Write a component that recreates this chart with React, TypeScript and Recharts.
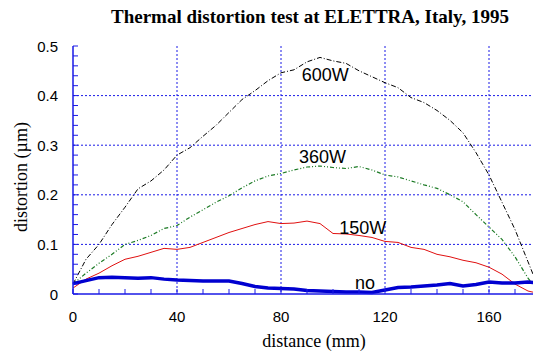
import React from 'react';
import {
  LineChart,
  Line,
  XAxis,
  YAxis,
  CartesianGrid,
  ReferenceDot,
} from 'recharts';

// distance along the mirror (mm)
const distance = [
  0, 5, 10, 15, 20, 25, 30, 35, 40, 45, 50, 55, 60, 65, 70, 75, 80, 85, 90,
  95, 100, 105, 110, 115, 120, 125, 130, 135, 140, 145, 150, 155, 160, 165,
  170, 175, 180,
];

// distortion (µm) per heat load
const w600 = [
  0.02, 0.07, 0.1, 0.14, 0.175, 0.212, 0.228, 0.25, 0.28, 0.295, 0.318, 0.34,
  0.366, 0.392, 0.41, 0.43, 0.446, 0.452, 0.468, 0.477, 0.47, 0.465, 0.45,
  0.438, 0.426, 0.416, 0.396, 0.386, 0.37, 0.35, 0.325, 0.285, 0.24, 0.185,
  0.13, 0.065, 0.0,
];
const w360 = [
  0.02, 0.042, 0.062, 0.08, 0.1, 0.108, 0.118, 0.132, 0.138, 0.155, 0.17,
  0.185, 0.198, 0.214, 0.228, 0.238, 0.243, 0.25, 0.256, 0.258, 0.255, 0.253,
  0.257, 0.25, 0.24, 0.236, 0.228, 0.22, 0.213, 0.2, 0.186, 0.16, 0.135, 0.11,
  0.075, 0.032, 0.0,
];
const w150 = [
  0.012, 0.03, 0.042, 0.057, 0.07, 0.076, 0.084, 0.092, 0.09, 0.094, 0.104,
  0.114, 0.124, 0.132, 0.14, 0.146, 0.142, 0.143, 0.147, 0.142, 0.122, 0.121,
  0.118, 0.114, 0.106, 0.104, 0.094, 0.09, 0.08, 0.075, 0.068, 0.063, 0.054,
  0.04, 0.02, 0.006, 0.0,
];
const wNo = [
  0.021, 0.027, 0.033, 0.034, 0.033, 0.032, 0.033, 0.03, 0.028, 0.027, 0.026,
  0.026, 0.026, 0.021, 0.015, 0.012, 0.011, 0.01, 0.007, 0.006, 0.005, 0.004,
  0.004, 0.003, 0.008, 0.013, 0.014, 0.016, 0.018, 0.021, 0.016, 0.019, 0.024,
  0.022, 0.022, 0.024, 0.022,
];

const seriesLabels = ['600W', '360W', '150W', 'no'];
const labelX = [88, 86.9, 102.4, 108.5];
const labelY = [0.43, 0.264, 0.1215, 0.011];

const xMajor = [0, 40, 80, 120, 160];
const xGrid = [40, 80, 120, 160];
const yGrid = [0.1, 0.2, 0.3, 0.4];
const xMinor = Array.from({ length: 19 }, (_, i) => i * 10);
const yMinor = Array.from({ length: 26 }, (_, i) => Math.round(i * 2) / 100);

const data = distance.map((d, i) => ({
  d,
  w600: w600[i],
  w360: w360[i],
  w150: w150[i],
  no: wNo[i],
}));

const BLUE = '#1a1ae6';
const SANS = '"Liberation Sans", Arial, sans-serif';
const SERIF = '"Liberation Serif", "Times New Roman", serif';

const isTenth = (v: number) => Math.abs(v * 10 - Math.round(v * 10)) < 1e-6;

const BottomTick = (p: any) => {
  const v = p.payload.value;
  return (
    <g>
      <line x1={p.x} x2={p.x} y1={p.y} y2={p.y - 5} stroke={BLUE} />
      {xMajor.includes(v) && (
        <text x={p.x} y={p.y + 28} textAnchor="middle" fontFamily={SANS} fontSize={15} fill="#000">
          {v}
        </text>
      )}
    </g>
  );
};

const TopTick = (p: any) => (
  <line x1={p.x} x2={p.x} y1={p.y} y2={p.y + 5} stroke={BLUE} />
);

const LeftTick = (p: any) => {
  const v = p.payload.value;
  return (
    <g>
      <line x1={p.x} x2={p.x + 5} y1={p.y} y2={p.y} stroke={BLUE} />
      {isTenth(v) && (
        <text x={p.x - 15} y={p.y + 5.5} textAnchor="end" fontFamily={SANS} fontSize={15} fill="#000">
          {v === 0 ? '0' : v.toFixed(1)}
        </text>
      )}
    </g>
  );
};

const RightTick = (p: any) => (
  <line x1={p.x} x2={p.x - 5} y1={p.y} y2={p.y} stroke={BLUE} />
);

export default function App() {
  return (
    <div style={{ position: 'relative', width: 534, height: 344 }}>
      <LineChart
        width={534}
        height={344}
        data={data}
        margin={{ top: 38, right: 1, bottom: 0, left: 0 }}
      >
        <CartesianGrid
          xAxisId="b"
          yAxisId="l"
          stroke={BLUE}
          strokeDasharray="2 2"
          verticalValues={xGrid}
          horizontalValues={yGrid}
        />
        <XAxis
          xAxisId="b"
          dataKey="d"
          type="number"
          domain={[0, 180]}
          ticks={xMinor}
          interval={0}
          height={58}
          tickSize={0}
          tickMargin={0}
          tickLine={false}
          axisLine={{ stroke: BLUE, strokeWidth: 1.5 }}
          tick={<BottomTick />}
        />
        <XAxis
          xAxisId="t"
          orientation="top"
          dataKey="d"
          type="number"
          domain={[0, 180]}
          ticks={xMinor}
          interval={0}
          height={0}
          tickSize={0}
          tickMargin={0}
          tickLine={false}
          axisLine={{ stroke: BLUE, strokeWidth: 1.5 }}
          tick={<TopTick />}
        />
        <YAxis
          yAxisId="l"
          type="number"
          domain={[0, 0.5]}
          ticks={yMinor}
          interval={0}
          width={65}
          tickSize={0}
          tickMargin={0}
          tickLine={false}
          axisLine={{ stroke: BLUE, strokeWidth: 1.5 }}
          tick={<LeftTick />}
        />
        <YAxis
          yAxisId="r"
          orientation="right"
          type="number"
          domain={[0, 0.5]}
          ticks={yMinor}
          interval={0}
          width={0}
          tickSize={0}
          tickMargin={0}
          tickLine={false}
          axisLine={{ stroke: BLUE, strokeWidth: 1.5 }}
          tick={<RightTick />}
        />
        <Line
          xAxisId="b"
          yAxisId="l"
          dataKey="w600"
          type="linear"
          stroke="#000"
          strokeWidth={1}
          strokeDasharray="5 2 1 2"
          dot={false}
          isAnimationActive={false}
        />
        <Line
          xAxisId="b"
          yAxisId="l"
          dataKey="w360"
          type="linear"
          stroke="#1b7a24"
          strokeWidth={1.2}
          strokeDasharray="4 2 1 2 1 2"
          dot={false}
          isAnimationActive={false}
        />
        <Line
          xAxisId="b"
          yAxisId="l"
          dataKey="w150"
          type="linear"
          stroke="#e01010"
          strokeWidth={1}
          dot={false}
          isAnimationActive={false}
        />
        <Line
          xAxisId="b"
          yAxisId="l"
          dataKey="no"
          type="linear"
          stroke="#0000d0"
          strokeWidth={3.5}
          dot={false}
          isAnimationActive={false}
        />
        {seriesLabels.map((s, i) => (
          <ReferenceDot
            key={s}
            xAxisId="b"
            yAxisId="l"
            x={labelX[i]}
            y={labelY[i]}
            r={0}
            shape={(p: any) => (
              <text x={p.cx} y={p.cy} fontFamily={SANS} fontSize={18} fill="#000">
                {s}
              </text>
            )}
          />
        ))}
      </LineChart>
      <svg
        width={541}
        height={352}
        style={{ position: 'absolute', left: -8, top: -8, pointerEvents: 'none' }}
      >
        <text x={310} y={22.7} textAnchor="middle" fontFamily={SERIF} fontWeight="bold" fontSize={19}>
          Thermal distortion test at ELETTRA, Italy, 1995
        </text>
        <text x={314} y={347} textAnchor="middle" fontFamily={SERIF} fontSize={18}>
          distance (mm)
        </text>
        <text
          x={27}
          y={177}
          textAnchor="middle"
          fontFamily={SERIF}
          fontSize={18}
          transform="rotate(-90 27 177)"
        >
          distortion (µm)
        </text>
      </svg>
    </div>
  );
}
